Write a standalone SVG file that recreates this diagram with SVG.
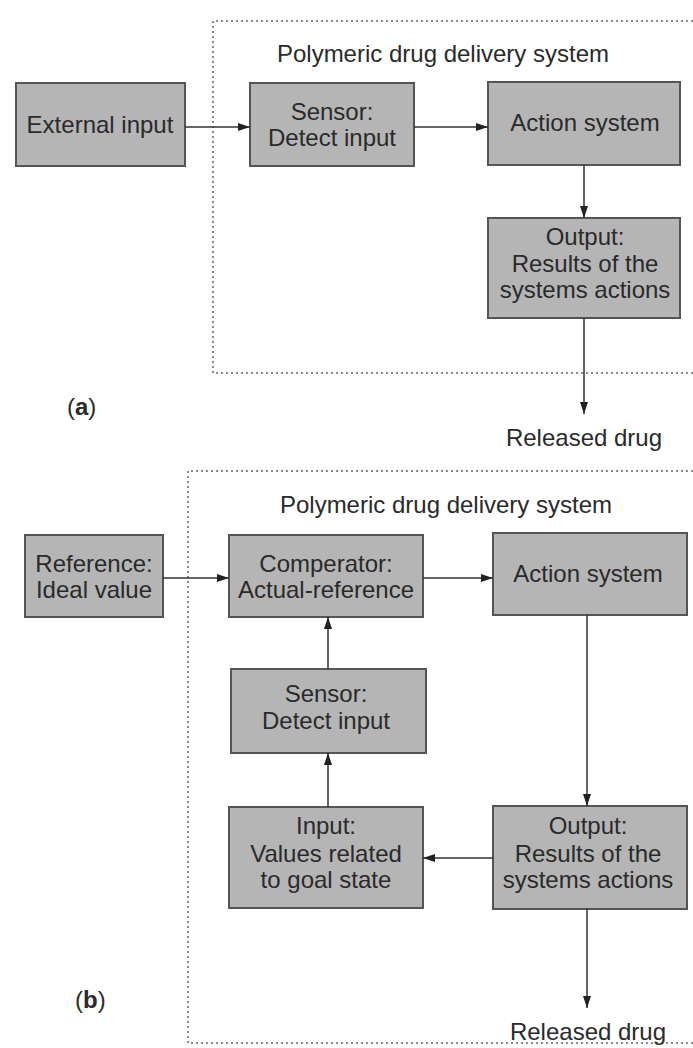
<svg xmlns="http://www.w3.org/2000/svg" width="693" height="1048" viewBox="0 0 693 1048">
  <style>
    .box { fill: #b5b5b5; stroke: #555; stroke-width: 2; }
    .lbl { font-family: "Liberation Sans", Arial, sans-serif; font-size: 24px; fill: #2a2a2a; text-anchor: middle; }
    .free { font-family: "Liberation Sans", Arial, sans-serif; font-size: 24px; fill: #2a2a2a; }
    .frame { fill: none; stroke: #8a8a8a; stroke-width: 2; stroke-dasharray: 2 3; }
    .wire { fill: none; stroke: #333; stroke-width: 1.5; marker-end: url(#arr); }
  </style>
  <defs>
    <marker id="arr" viewBox="0 0 12 8" refX="12" refY="4" markerWidth="12" markerHeight="8" markerUnits="userSpaceOnUse" orient="auto">
      <path d="M0,0 L12,4 L0,8 Z" fill="#222"/>
    </marker>
  </defs>
  <rect width="693" height="1048" fill="#fff"/>

  <!-- (a) open-loop system -->
  <g id="frame-a">
    <path class="frame" d="M693,21 H213 V373 H693"/>
    <text class="lbl" x="443" y="62">Polymeric drug delivery system</text>
  </g>
  <g id="a-external-input">
    <rect class="box" x="16" y="83" width="169" height="83"/>
    <text class="lbl" x="100" y="133">External input</text>
  </g>
  <g id="a-sensor">
    <rect class="box" x="250" y="83" width="164" height="83"/>
    <text class="lbl" x="332" y="120">Sensor:</text>
    <text class="lbl" x="332" y="146">Detect input</text>
  </g>
  <g id="a-action">
    <rect class="box" x="488" y="82" width="192" height="83"/>
    <text class="lbl" x="585" y="131">Action system</text>
  </g>
  <g id="a-output">
    <rect class="box" x="488" y="218" width="192" height="100"/>
    <text class="lbl" x="585" y="245">Output:</text>
    <text class="lbl" x="585" y="272">Results of the</text>
    <text class="lbl" x="585" y="298">systems actions</text>
  </g>
  <g id="a-released">
    <text class="lbl" x="584" y="446">Released drug</text>
  </g>
  <text class="free" x="67" y="415">(<tspan font-weight="bold">a</tspan>)</text>

  <!-- (b) closed-loop system -->
  <g id="frame-b">
    <path class="frame" d="M693,471 H188 V1043 H693"/>
    <text class="lbl" x="446" y="513">Polymeric drug delivery system</text>
  </g>
  <g id="b-reference">
    <rect class="box" x="25" y="535" width="138" height="82"/>
    <text class="lbl" x="94" y="572">Reference:</text>
    <text class="lbl" x="94" y="598">Ideal value</text>
  </g>
  <g id="b-comperator">
    <rect class="box" x="229" y="535" width="194" height="82"/>
    <text class="lbl" x="326" y="572">Comperator:</text>
    <text class="lbl" x="326" y="598">Actual-reference</text>
  </g>
  <g id="b-action">
    <rect class="box" x="493" y="533" width="194" height="82"/>
    <text class="lbl" x="588" y="582">Action system</text>
  </g>
  <g id="b-sensor">
    <rect class="box" x="231" y="669" width="195" height="84"/>
    <text class="lbl" x="326" y="702">Sensor:</text>
    <text class="lbl" x="326" y="729">Detect input</text>
  </g>
  <g id="b-input">
    <rect class="box" x="229" y="807" width="194" height="101"/>
    <text class="lbl" x="326" y="834">Input:</text>
    <text class="lbl" x="326" y="862">Values related</text>
    <text class="lbl" x="326" y="888">to goal state</text>
  </g>
  <g id="b-output">
    <rect class="box" x="493" y="806" width="194" height="103"/>
    <text class="lbl" x="588" y="834">Output:</text>
    <text class="lbl" x="588" y="862">Results of the</text>
    <text class="lbl" x="588" y="888">systems actions</text>
  </g>
  <g id="b-released">
    <text class="lbl" x="588" y="1040">Released drug</text>
  </g>
  <text class="free" x="75" y="1008">(<tspan font-weight="bold">b</tspan>)</text>

  <g id="connectors">
    <path class="wire" d="M185,127 H250"/>
    <path class="wire" d="M414,127 H488"/>
    <path class="wire" d="M584,165 V218"/>
    <path class="wire" d="M584,318 V414"/>

    <path class="wire" d="M163,578 H229"/>
    <path class="wire" d="M423,578 H493"/>
    <path class="wire" d="M587,615 V806"/>
    <path class="wire" d="M493,858 H423"/>
    <path class="wire" d="M328,807 V753"/>
    <path class="wire" d="M328,669 V617"/>
    <path class="wire" d="M587,909 V1008"/>
  </g>
</svg>
